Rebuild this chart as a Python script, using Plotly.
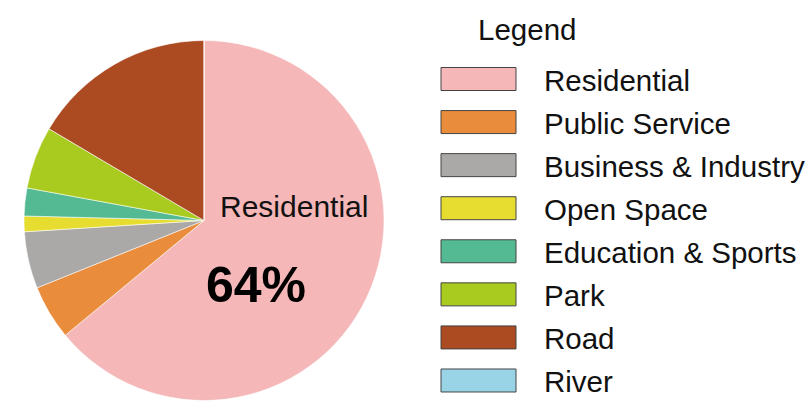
import plotly.graph_objects as go

categories = ["Residential", "Public Service", "Business & Industry", "Open Space",
              "Education & Sports", "Park", "Road", "River"]
values = [64.0, 4.9, 5.1, 1.4, 2.5, 5.6, 16.5, 0.0]
colors = ["#F5B7B8", "#E98C3B", "#ABA9A7", "#E7DD30", "#53BA94", "#A9CB1F", "#AC4A22", "#98D3E6"]
legend_title = "Legend"
main_label = "Residential"
main_pct = "64%"

W, H = 811, 403
FONT = "Arial, Liberation Sans, Helvetica, sans-serif"

fig = go.Figure()
fig.add_trace(go.Pie(
    labels=categories, values=values, sort=False, direction="clockwise", rotation=0,
    marker=dict(colors=colors, line=dict(color="rgba(255,255,255,0.7)", width=0.8)),
    textinfo="none", hoverinfo="label+percent", showlegend=False,
    domain=dict(x=[24 / W, 384 / W], y=[1 - 400.5 / H, 1 - 40.5 / H]),
))

def px(x):
    return x / W

def py(y):
    return 1 - y / H

shapes = []
annotations = []
annotations.append(dict(text=main_label, x=px(294), y=py(207), xref="paper", yref="paper",
                        showarrow=False, xanchor="center", yanchor="middle",
                        font=dict(family=FONT, size=30, color="#111")))
annotations.append(dict(text="<b>" + main_pct + "</b>", x=px(256), y=py(285), xref="paper", yref="paper",
                        showarrow=False, xanchor="center", yanchor="middle",
                        font=dict(family=FONT, size=50, color="#000")))
annotations.append(dict(text=legend_title, x=px(476), y=py(29), xref="paper", yref="paper",
                        showarrow=False, xanchor="left", yanchor="middle",
                        font=dict(family=FONT, size=29.5, color="#111")))

row0, step = 79.0, 43.07
for i, (cat, col) in enumerate(zip(categories, colors)):
    cy = row0 + i * step
    shapes.append(dict(type="rect", xref="paper", yref="paper",
                       x0=px(441), x1=px(516), y0=py(cy + 11.5), y1=py(cy - 11.5),
                       fillcolor=col, line=dict(color="#444", width=1)))
    annotations.append(dict(text=cat, x=px(542), y=py(cy + 1), xref="paper", yref="paper",
                            showarrow=False, xanchor="left", yanchor="middle",
                            font=dict(family=FONT, size=29.5, color="#111")))

fig.update_layout(
    width=W, height=H, margin=dict(l=0, r=0, t=0, b=0),
    paper_bgcolor="white", plot_bgcolor="white",
    shapes=shapes, annotations=annotations, showlegend=False,
)
fig.write_html("out.html", config={"displayModeBar": False},
               post_script="document.body.style.margin='0';document.body.style.overflow='hidden';")
